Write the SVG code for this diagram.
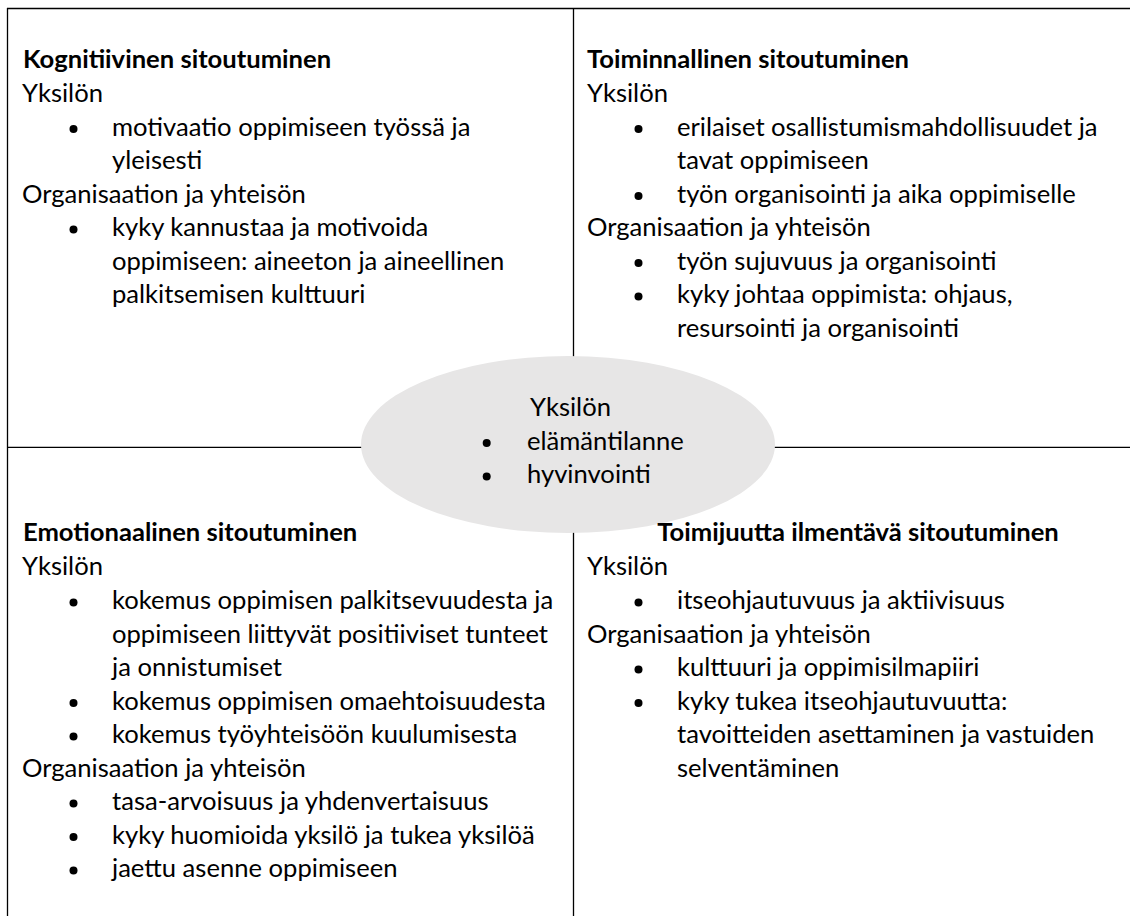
<svg xmlns="http://www.w3.org/2000/svg" width="1130" height="916" viewBox="0 0 1130 916">
<style>
text{font-family:Lato,"Open Sans","Liberation Sans",sans-serif;font-size:25.6px;fill:#000}
.h{font-weight:bold}
.b{fill:#000}
.ln{stroke:#000;stroke-width:1.3;fill:none}
</style>
<rect width="1130" height="916" fill="#fff"/>
<g id="grid">
<line class="ln" x1="7" y1="8.5" x2="1130" y2="8.5"/>
<line class="ln" x1="7.5" y1="8" x2="7.5" y2="916"/>
<line class="ln" x1="573.5" y1="8" x2="573.5" y2="916"/>
<line class="ln" x1="7" y1="447.3" x2="1130" y2="447.3"/>
</g>
<g id="yksilo">
<ellipse cx="568" cy="444.5" rx="207" ry="88.5" fill="#e7e6e6"/>
<text x="530" y="416">Yksilön</text>
<circle class="b" cx="486.7" cy="443" r="4"/>
<text x="527" y="450">elämäntilanne</text>
<circle class="b" cx="486.7" cy="476.5" r="4"/>
<text x="527" y="483">hyvinvointi</text>
</g>
<g id="kognitiivinen">
<text class="h" x="23" y="68">Kognitiivinen sitoutuminen</text>
<text x="22" y="101.5">Yksilön</text>
<circle class="b" cx="73.5" cy="129" r="4"/>
<text x="112" y="135.5">motivaatio oppimiseen työssä ja</text>
<text x="112" y="169">yleisesti</text>
<text x="22" y="202.5">Organisaation ja yhteisön</text>
<circle class="b" cx="73.5" cy="229.5" r="4"/>
<text x="112" y="236">kyky kannustaa ja motivoida</text>
<text x="112" y="269.5">oppimiseen: aineeton ja aineellinen</text>
<text x="112" y="303">palkitsemisen kulttuuri</text>
</g>
<g id="toiminnallinen">
<text class="h" x="587" y="68">Toiminnallinen sitoutuminen</text>
<text x="587" y="101.5">Yksilön</text>
<circle class="b" cx="638.5" cy="129" r="4"/>
<text x="677" y="135.5">erilaiset osallistumismahdollisuudet ja</text>
<text x="677" y="169">tavat oppimiseen</text>
<circle class="b" cx="638.5" cy="196" r="4"/>
<text x="677" y="202.5">työn organisointi ja aika oppimiselle</text>
<text x="587" y="236">Organisaation ja yhteisön</text>
<circle class="b" cx="638.5" cy="263" r="4"/>
<text x="677" y="269.5">työn sujuvuus ja organisointi</text>
<circle class="b" cx="638.5" cy="296.5" r="4"/>
<text x="677" y="303">kyky johtaa oppimista: ohjaus,</text>
<text x="677" y="336.5">resursointi ja organisointi</text>
</g>
<g id="emotionaalinen">
<text class="h" x="23" y="540.5">Emotionaalinen sitoutuminen</text>
<text x="22" y="575">Yksilön</text>
<circle class="b" cx="73.5" cy="602.5" r="4"/>
<text x="112" y="609">kokemus oppimisen palkitsevuudesta ja</text>
<text x="112" y="642.7">oppimiseen liittyvät positiiviset tunteet</text>
<text x="112" y="676">ja onnistumiset</text>
<circle class="b" cx="73.5" cy="703" r="4"/>
<text x="112" y="709.5">kokemus oppimisen omaehtoisuudesta</text>
<circle class="b" cx="73.5" cy="736.5" r="4"/>
<text x="112" y="743">kokemus työyhteisöön kuulumisesta</text>
<text x="22" y="776.5">Organisaation ja yhteisön</text>
<circle class="b" cx="73.5" cy="803.5" r="4"/>
<text x="112" y="810">tasa-arvoisuus ja yhdenvertaisuus</text>
<circle class="b" cx="73.5" cy="837" r="4"/>
<text x="112" y="843.5">kyky huomioida yksilö ja tukea yksilöä</text>
<circle class="b" cx="73.5" cy="870.5" r="4"/>
<text x="112" y="877">jaettu asenne oppimiseen</text>
</g>
<g id="toimijuus">
<text class="h" x="858" y="540.5" text-anchor="middle">Toimijuutta ilmentävä sitoutuminen</text>
<text x="587" y="575">Yksilön</text>
<circle class="b" cx="638.5" cy="602.5" r="4"/>
<text x="677" y="609">itseohjautuvuus ja aktiivisuus</text>
<text x="587" y="642.7">Organisaation ja yhteisön</text>
<circle class="b" cx="638.5" cy="669.5" r="4"/>
<text x="677" y="676">kulttuuri ja oppimisilmapiiri</text>
<circle class="b" cx="638.5" cy="703" r="4"/>
<text x="677" y="709.5">kyky tukea itseohjautuvuutta:</text>
<text x="677" y="743">tavoitteiden asettaminen ja vastuiden</text>
<text x="677" y="776.5">selventäminen</text>
</g>
</svg>
